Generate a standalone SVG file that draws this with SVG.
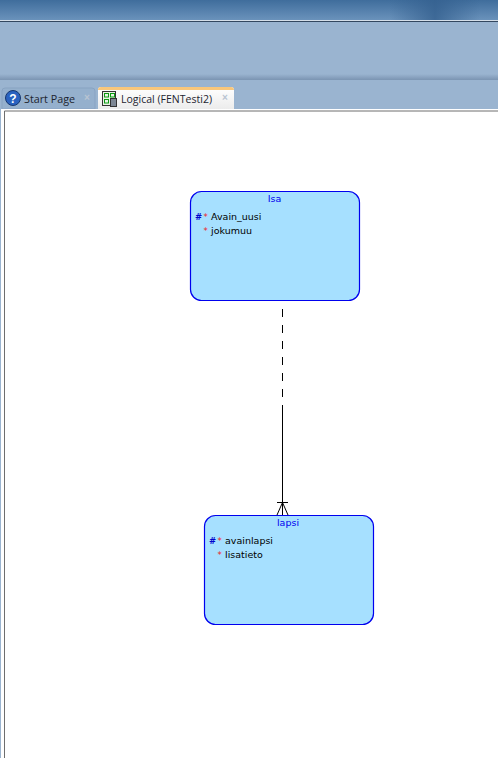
<svg xmlns="http://www.w3.org/2000/svg" width="498" height="758" viewBox="0 0 498 758">
<style>
.ent{fill:#a6e0ff;stroke:#0000ee;stroke-width:1.2}
.t{font-family:"DejaVu Sans",sans-serif;font-size:9.500px;fill:#000}
.h{font-family:"DejaVu Sans",sans-serif;font-size:9.500px;fill:#0000ee;text-anchor:middle}
.k{font-family:"DejaVu Sans",sans-serif;font-size:8.500px;font-weight:bold;fill:#0000cc}
.s{font-family:"DejaVu Sans",sans-serif;font-size:8.500px;fill:#ee2222}
.tab{font-family:"Open Sans",sans-serif;font-size:11px;fill:#1c2430}
.x{font-family:"Liberation Sans",sans-serif;font-size:10px;fill:#b9c4d2;font-weight:bold}
.c{stroke:#000;stroke-width:1;fill:none}
</style>
<defs>
<linearGradient id="top" x1="0" y1="0" x2="0" y2="1"><stop offset="0" stop-color="#3f6d9c"/><stop offset="1" stop-color="#6a92bb"/></linearGradient>
<linearGradient id="band" x1="0" y1="0" x2="0" y2="1"><stop offset="0" stop-color="#9ab4d0"/><stop offset="1" stop-color="#7b94b2"/></linearGradient>
<linearGradient id="glow" x1="0" y1="0" x2="1" y2="0"><stop offset="0" stop-color="#34608f" stop-opacity="0"/><stop offset="0.5" stop-color="#34608f" stop-opacity="0.8"/><stop offset="1" stop-color="#34608f" stop-opacity="0"/></linearGradient>
<linearGradient id="tabL" x1="0" y1="0" x2="0" y2="1"><stop offset="0" stop-color="#ffffff"/><stop offset="1" stop-color="#ececec"/></linearGradient>
</defs>
<g id="chrome">
<rect width="498" height="758" fill="#9ab4d0"/>
<rect width="498" height="20" fill="url(#top)"/>
<rect x="390" width="90" height="20" fill="url(#glow)"/>
<rect y="20" width="498" height="1" fill="#d5dee8"/>
<rect y="21" width="498" height="1" fill="#33475f"/>
<rect y="74" width="498" height="6" fill="url(#band)"/>
<path d="M2 109V91q0-3 3-3H92q3 0 3 3V109Z" fill="#95b0cd" stroke="#88a3c2"/>
<circle cx="13" cy="98" r="7.500" fill="#2a62c0" stroke="#16376f"/>
<text x="13" y="102.500" font-family="Liberation Sans,sans-serif" font-size="12" font-weight="bold" fill="#fff" text-anchor="middle">?</text>
<text class="tab" x="24" y="103" textLength="51" lengthAdjust="spacingAndGlyphs">Start Page</text>
<text class="x" x="84" y="101">×</text>
<path d="M98 109V90q0-3 3-3H231q3 0 3 3V109Z" fill="url(#tabL)"/>
<path d="M98 90q0-3 3-3H231q3 0 3 3Z" fill="#f9c77b"/>
<g id="tab-icon">
<rect x="102.500" y="91.500" width="13" height="14" fill="#e8f3e4" stroke="#333"/>
<rect x="104.500" y="93.500" width="4" height="3.500" fill="none" stroke="#0a9a12"/>
<rect x="110.500" y="93.500" width="4" height="3.500" fill="none" stroke="#0a9a12"/>
<rect x="104.500" y="99.500" width="4" height="3.500" fill="none" stroke="#0a9a12"/>
<rect x="110.500" y="98.500" width="6" height="8" fill="#7d8794" stroke="#333"/>
</g>
<text class="tab" x="121" y="103" textLength="91" lengthAdjust="spacingAndGlyphs">Logical (FENTesti2)</text>
<text class="x" x="222" y="101">×</text>
<rect x="0" y="109" width="498" height="649" fill="#fff"/>
<rect x="0" y="109" width="1" height="649" fill="#9ab4d0"/>
<path d="M4.500 758V111H498" fill="none" stroke="#6e6e6e" stroke-width="1"/>
</g>
<g id="connectors">
<path class="c" d="M282.500 309V405" stroke-dasharray="8 8"/>
<path class="c" d="M282.500 405V515"/>
<path class="c" d="M277 502.500H288M282.500 502.500L277 515M282.500 502.500L288 515"/>
</g>
<g id="isa">
<rect class="ent" x="190.500" y="191.500" width="169" height="109" rx="11"/>
<text class="h" x="274.500" y="202">Isa</text>
<text class="k" x="195" y="220">#</text><text class="s" x="203.500" y="220">*</text><text class="t" x="211" y="220">Avain_uusi</text>
<text class="s" x="203.500" y="234">*</text><text class="t" x="211" y="234">jokumuu</text>
</g>
<g id="lapsi">
<rect class="ent" x="204.500" y="515.500" width="169" height="109" rx="11"/>
<text class="h" x="288" y="526">lapsi</text>
<text class="k" x="209" y="544">#</text><text class="s" x="217.500" y="544">*</text><text class="t" x="225" y="544">avainlapsi</text>
<text class="s" x="217.500" y="558">*</text><text class="t" x="225" y="558">lisatieto</text>
</g>
</svg>
